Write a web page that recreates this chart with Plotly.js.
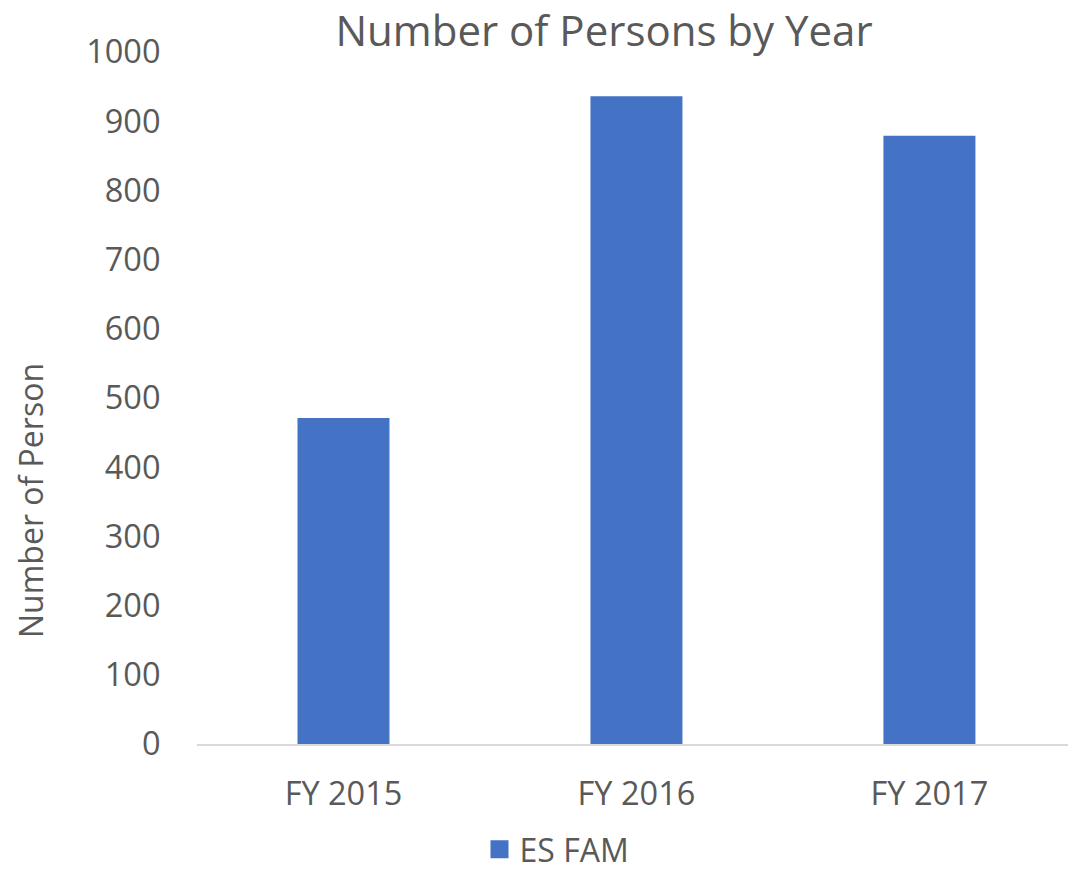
<!DOCTYPE html>
<html>
<head>
<meta charset="utf-8">
<script src="https://cdn.plot.ly/plotly-3.0.1.min.js"></script>
<style>html,body{margin:0;padding:0;background:#fff;}#chart{width:1068px;height:877px;}</style>
</head>
<body>
<div id="chart"></div>
<script>
const categories = ["FY 2015", "FY 2016", "FY 2017"];
const seriesName = "ES FAM";
const values = [471, 936, 879];
const yTickVals = [0, 100, 200, 300, 400, 500, 600, 700, 800, 900, 1000];
const yAxisTitle = "Number of Person";
const chartTitle = "Number of Persons by Year";

const textColor = "#595959";
const fontFam = "'Open Sans', 'Noto Sans', sans-serif";

const trace = {
  type: "bar",
  x: categories,
  y: values,
  name: seriesName,
  marker: {color: "#4472C4"},
  width: 0.314,
  hoverinfo: "none"
};

const layout = {
  width: 1068,
  height: 877,
  paper_bgcolor: "#fff",
  plot_bgcolor: "#fff",
  margin: {l: 197, r: 0, t: 52, b: 133, autoexpand: false},
  font: {family: fontFam, color: textColor},
  title: {
    text: chartTitle,
    font: {size: 42, color: textColor, family: fontFam},
    x: 604 / 1068, xanchor: "center", xref: "container",
    y: 1 - 31 / 877, yanchor: "middle", yref: "container"
  },
  xaxis: {
    type: "category",
    range: [-0.5, 2.473],
    showline: true,
    linecolor: "#d9d9d9",
    linewidth: 1.5,
    showgrid: false,
    zeroline: false,
    ticks: "outside",
    ticklen: 20,
    tickcolor: "rgba(0,0,0,0)",
    tickfont: {size: 32.5, color: textColor}
  },
  yaxis: {
    range: [0, 1000],
    tickvals: yTickVals,
    showgrid: false,
    zeroline: false,
    showline: false,
    ticks: "outside",
    ticklen: 29,
    tickcolor: "rgba(0,0,0,0)",
    tickfont: {size: 32.5, color: textColor}
  },
  annotations: [{
    text: yAxisTitle,
    textangle: -90,
    xref: "paper", yref: "paper",
    x: (30 - 197) / 871, y: (744 - 501) / 692,
    xanchor: "center", yanchor: "middle",
    showarrow: false,
    font: {size: 32, color: textColor}
  }],
  showlegend: true,
  legend: {
    orientation: "h",
    x: 557 / 1068, xanchor: "center", xref: "container",
    y: 0, yanchor: "bottom", yref: "container",
    font: {size: 32, color: textColor},
    itemwidth: 30
  },
  bargap: 0.686
};

Plotly.newPlot("chart", [trace], layout, {displayModeBar: false, staticPlot: true}).then(function (gd) {
  gd.querySelectorAll(".legendpoints path").forEach(function (p) {
    p.setAttribute("d", "M9,9H-9V-9H9Z");
  });
});
</script>
</body>
</html>
